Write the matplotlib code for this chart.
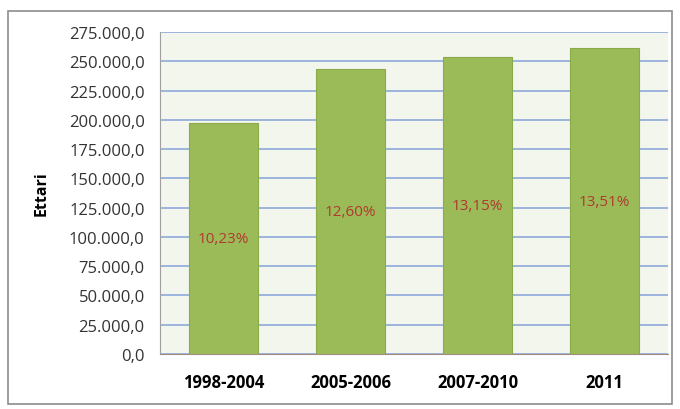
import matplotlib
matplotlib.use('Agg')
from matplotlib import pyplot as plt
from matplotlib.patches import Rectangle
from matplotlib.ticker import FuncFormatter

periodi = ['1998-2004', '2005-2006', '2007-2010', '2011']
ettari = [197300, 243400, 253700, 261300]
percentuali = ['10,23%', '12,60%', '13,15%', '13,51%']

plt.rcParams['font.family'] = ['Open Sans', 'DejaVu Sans']

fig = plt.figure(figsize=(6.8, 4.1), dpi=100)
fig.patches.append(Rectangle((8 / 680, 5 / 410), 664 / 680, 393 / 410,
                             transform=fig.transFigure, fill=False,
                             edgecolor='#8c8c8c', linewidth=1.2))

ax = fig.add_axes([160 / 680, 55 / 410, 508 / 680, 322 / 410])
ax.set_facecolor('#f2f6ec')

x = range(len(periodi))
ax.bar(x, ettari, width=0.55, color='#9bbb59', edgecolor='#8aab4a',
       linewidth=0.8, zorder=3)
for i, v in enumerate(ettari):
    ax.text(i, v / 2, percentuali[i], ha='center', va='center',
            color='#b03a2e', fontsize=11, zorder=4)

ax.set_ylim(0, 275000)
ax.set_xlim(-0.5, 3.5)
ax.set_yticks(range(0, 275001, 25000))
ax.yaxis.set_major_formatter(FuncFormatter(
    lambda v, p: '{:,.1f}'.format(v).replace(',', 'X').replace('.', ',').replace('X', '.')))
ax.set_xticks(list(x))
ax.set_xticklabels(periodi, fontweight='bold', fontsize=12)
ax.tick_params(axis='y', labelsize=12, length=0, pad=11, colors='#333333')
ax.tick_params(axis='x', length=0, pad=14)
ax.grid(axis='y', color='#8eaadb', linewidth=1.2, zorder=0)
ax.set_axisbelow(True)

for s in ['top', 'right']:
    ax.spines[s].set_visible(False)
ax.spines['left'].set_color('#a0a0a0')
ax.spines['bottom'].set_color('#a08c80')

ax.set_ylabel('Ettari', fontweight='bold', fontsize=11.5, labelpad=14)

plt.savefig('out.png', dpi=100)
plt.close()
